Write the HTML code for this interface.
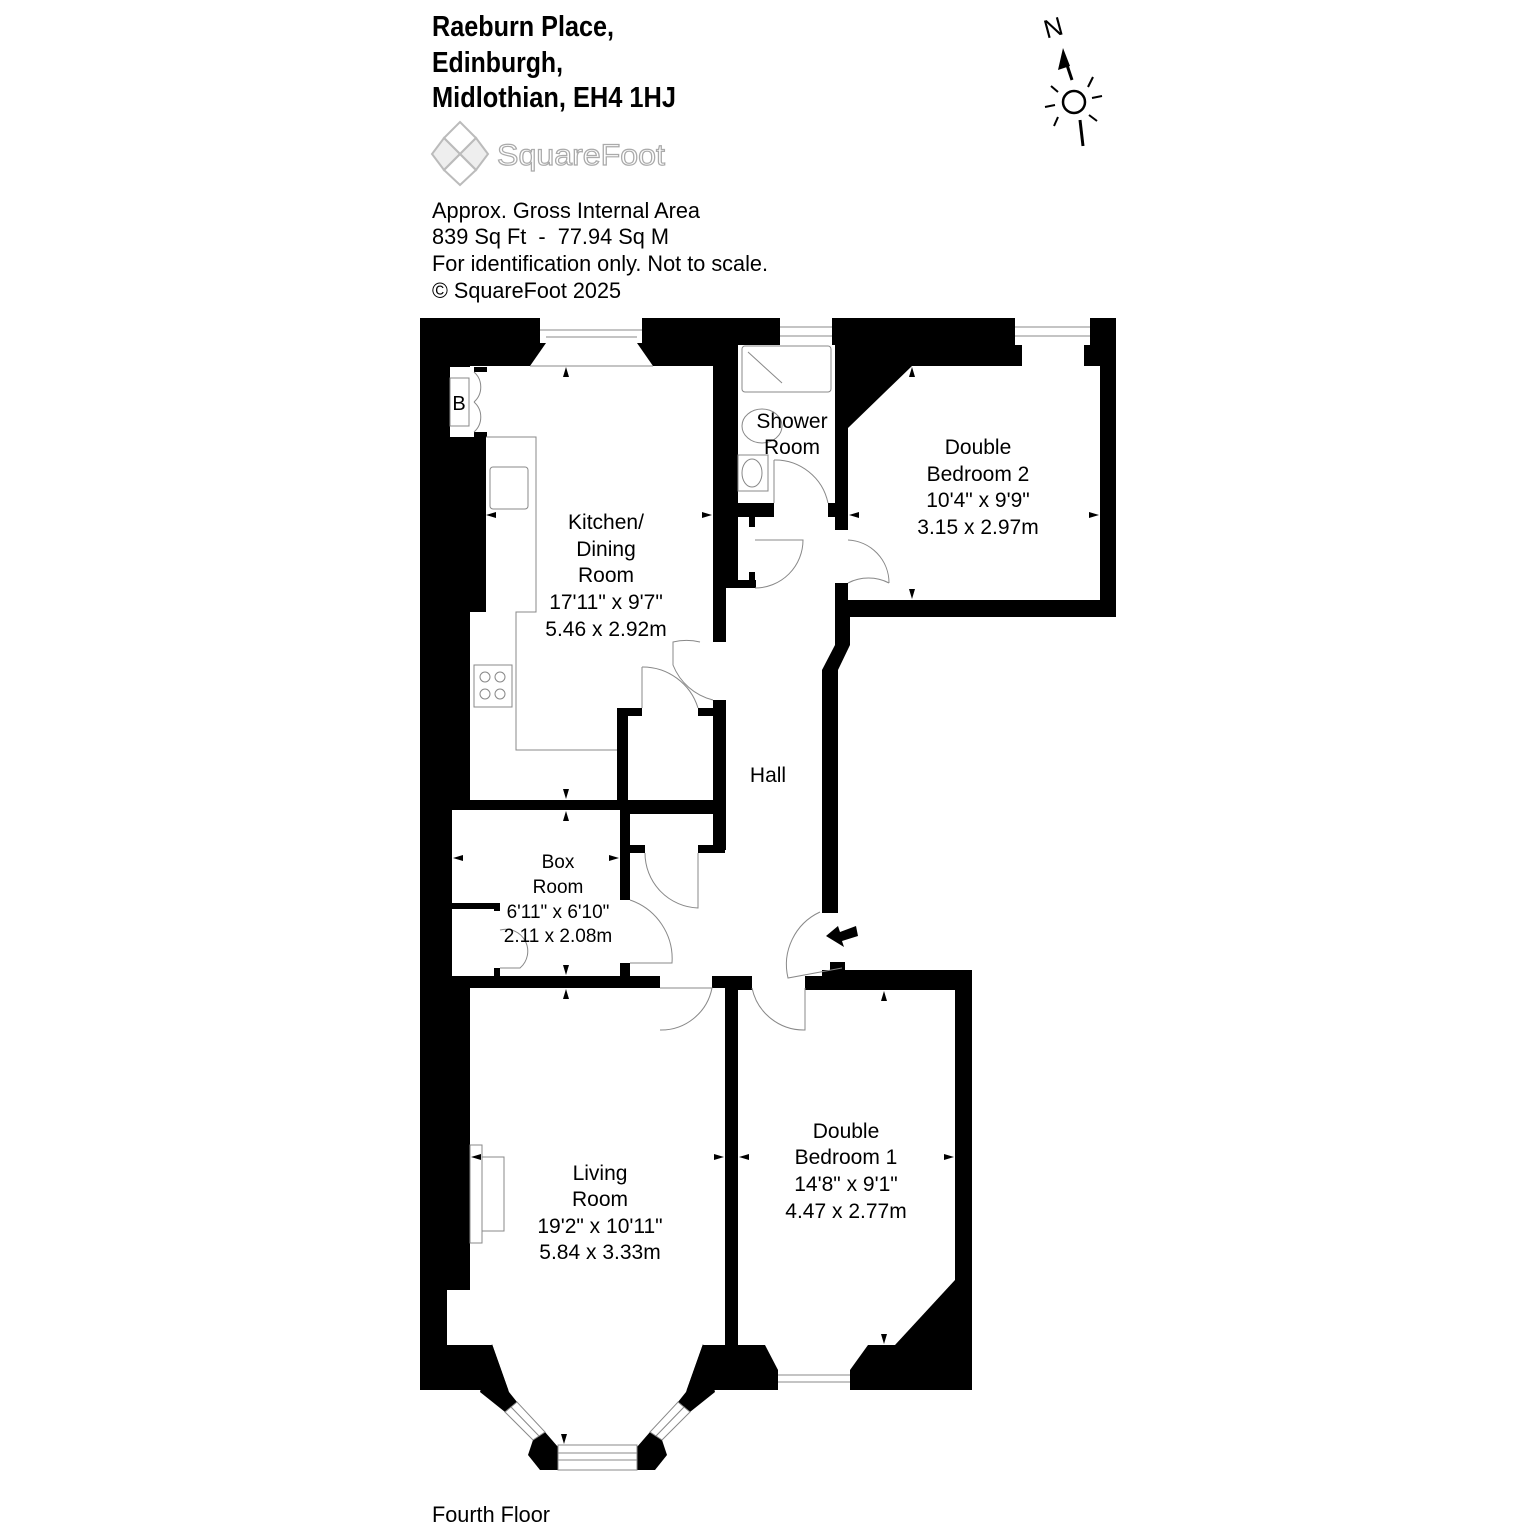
<!DOCTYPE html>
<html><head><meta charset="utf-8"><style>
body{margin:0;background:#fff}
svg{display:block}
.t{font-family:"Liberation Sans Narrow","Liberation Sans",sans-serif}
</style></head><body>
<svg width="1536" height="1536" viewBox="0 0 1536 1536" xmlns="http://www.w3.org/2000/svg">
<rect width="1536" height="1536" fill="#fff"/>
<!-- header -->
<g class="t" fill="#000">
<text x="432" y="36" font-size="29" font-weight="bold" textLength="182" lengthAdjust="spacingAndGlyphs">Raeburn Place,</text>
<text x="432" y="72" font-size="29" font-weight="bold" textLength="131" lengthAdjust="spacingAndGlyphs">Edinburgh,</text>
<text x="432" y="107" font-size="29" font-weight="bold" textLength="244" lengthAdjust="spacingAndGlyphs">Midlothian, EH4 1HJ</text>
<text x="432" y="218" font-size="22" textLength="268" lengthAdjust="spacingAndGlyphs">Approx. Gross Internal Area</text>
<text x="432" y="244" font-size="22" textLength="237" lengthAdjust="spacingAndGlyphs" xml:space="preserve">839 Sq Ft  -  77.94 Sq M</text>
<text x="432" y="271" font-size="22" textLength="336" lengthAdjust="spacingAndGlyphs">For identification only. Not to scale.</text>
<text x="432" y="298" font-size="22" textLength="189" lengthAdjust="spacingAndGlyphs">© SquareFoot 2025</text>
<text x="432" y="1522" font-size="22" textLength="118" lengthAdjust="spacingAndGlyphs">Fourth Floor</text>
</g>
<!-- logo -->
<g fill="none" stroke="#bbb" stroke-width="2">
<path d="M460 122 L476 138 L460 154 L444 138 Z"/>
<path d="M444 138 L460 154 L444 170 L432 154 Z" fill="#eee"/>
<path d="M476 138 L488 154 L476 170 L460 154 Z" fill="#eee"/>
<path d="M460 154 L476 170 L460 185 L444 170 Z"/>
</g>
<text x="497" y="165" class="t" font-size="30" fill="#fff" stroke="#aaa" stroke-width="1.2" textLength="168" lengthAdjust="spacingAndGlyphs">SquareFoot</text>
<!-- compass -->
<g stroke="#000" fill="none" stroke-width="3">
<text x="1044" y="36" class="t" font-size="26" fill="#000" stroke="none" transform="rotate(-15 1055 28)">N</text>
<line x1="1072" y1="80" x2="1066" y2="62"/>
<polygon points="1058,70 1070,66 1063,48" fill="#000" stroke="none"/>
<circle cx="1074" cy="102" r="11" stroke-width="2.5"/>
<line x1="1080" y1="120" x2="1083" y2="146"/>
<line x1="1045" y1="107" x2="1055" y2="105" stroke-width="2"/>
<line x1="1092" y1="98" x2="1102" y2="96" stroke-width="2"/>
<line x1="1051" y1="86" x2="1058" y2="92" stroke-width="2"/>
<line x1="1089" y1="115" x2="1097" y2="121" stroke-width="2"/>
<line x1="1088" y1="87" x2="1093" y2="77" stroke-width="2"/>
<line x1="1058" y1="117" x2="1054" y2="126" stroke-width="2"/>
</g>
<!-- black footprint -->
<polygon fill="#000" points="420,318 1116,318 1116,617 850,617 850,645 838,670 838,905 840,970 972,970 972,1390 420,1390"/>
<g fill="#fff">
<!-- kitchen -->
<rect x="470" y="366" width="243" height="434"/>
<polygon points="530,366 546,343 637,343 653,366"/>
<rect x="540" y="318" width="102" height="25"/>
<rect x="450" y="367" width="37" height="70"/>
<rect x="713" y="642" width="13" height="58"/>
<!-- shower -->
<rect x="738" y="345" width="97" height="158"/>
<rect x="780" y="318" width="52" height="27"/>
<!-- hall -->
<rect x="726" y="503" width="109" height="114"/>
<rect x="726" y="617" width="96" height="359"/>
<polygon points="822,617 835,617 835,645 822,670"/>
<rect x="630" y="850" width="192" height="126"/>
<rect x="818" y="905" width="30" height="65"/>
<!-- bedroom 2 -->
<polygon points="848,428 912,366 1100,366 1100,600 848,600"/>
<rect x="1015" y="318" width="75" height="27"/>
<rect x="1022" y="345" width="62" height="21"/>
<rect x="835" y="530" width="13" height="53"/>
<!-- box room -->
<rect x="452" y="810" width="168" height="166"/>
<rect x="620" y="900" width="10" height="63"/>
<rect x="630" y="810" width="83" height="40"/>
<!-- living -->
<rect x="470" y="988" width="255" height="357"/>
<rect x="447" y="1290" width="23" height="55"/>
<polygon points="492,1344 703,1344 686,1392 650,1445 545,1445 509,1392"/>
<!-- bedroom 1 -->
<polygon points="738,990 955,990 955,1280 895,1345 738,1345"/>
<polygon points="765,1345 868,1345 850,1370 778,1370"/>
<rect x="778" y="1370" width="72" height="20"/>
<!-- door gaps bottom -->
<rect x="660" y="976" width="52" height="12"/>
<rect x="752" y="976" width="53" height="16"/>
</g>
<!-- bay window walls -->
<g fill="#000">
<polygon points="492,1344 509,1392 517,1402 505,1412 480,1392"/>
<polygon points="703,1344 686,1392 678,1402 690,1412 715,1392"/>
<polygon points="533,1440 545,1432 558,1447 558,1470 540,1470 528,1455"/>
<polygon points="662,1440 650,1432 637,1447 637,1470 655,1470 667,1455"/>
</g>
<g fill="#fff" stroke="#888" stroke-width="1">
<polygon points="505,1412 517,1402 545,1432 533,1440"/>
<polygon points="690,1412 678,1402 650,1432 662,1440"/>
<rect x="558" y="1445" width="79" height="25"/>
</g>
<g stroke="#888" stroke-width="1" fill="none">
<line x1="511" y1="1407" x2="539" y2="1436"/>
<line x1="684" y1="1407" x2="656" y2="1436"/>
<line x1="558" y1="1453" x2="637" y2="1453"/><line x1="558" y1="1460" x2="637" y2="1460"/>
</g>
<!-- re-add black bits -->
<g fill="#000">
<rect x="470" y="437" width="16" height="175"/>
<rect x="474" y="367" width="13" height="5"/>
<rect x="474" y="432" width="13" height="5"/>
<rect x="617" y="710" width="11" height="90"/>
<rect x="617" y="708" width="25" height="8"/>
<rect x="698" y="708" width="27" height="8"/>
<rect x="713" y="700" width="13" height="100"/>
<rect x="726" y="503" width="48" height="14"/>
<rect x="828" y="503" width="20" height="14"/>
<rect x="726" y="517" width="12" height="70"/>
<rect x="726" y="580" width="30" height="8"/>
<rect x="749" y="517" width="6" height="10"/>
<rect x="749" y="572" width="6" height="10"/>
<rect x="835" y="583" width="13" height="34"/>
<rect x="620" y="810" width="10" height="90"/>
<rect x="620" y="963" width="10" height="13"/>
<rect x="630" y="808" width="95" height="6"/>
<rect x="713" y="808" width="12" height="45"/>
<rect x="630" y="845" width="15" height="8"/>
<rect x="698" y="845" width="27" height="8"/>
<rect x="452" y="903" width="48" height="6"/>
<rect x="494" y="903" width="6" height="8"/>
<rect x="494" y="968" width="6" height="8"/>
<rect x="822" y="905" width="16" height="8"/>
<rect x="830" y="962" width="15" height="10"/>
<rect x="725" y="988" width="13" height="357"/>
</g>
<!-- windows lines -->
<g stroke="#888" stroke-width="1" fill="none">
<line x1="540" y1="330" x2="642" y2="330"/><line x1="546" y1="337" x2="637" y2="337"/><line x1="530" y1="366" x2="653" y2="366"/>
<line x1="780" y1="327" x2="832" y2="327"/><line x1="780" y1="336" x2="832" y2="336"/>
<line x1="1015" y1="327" x2="1090" y2="327"/><line x1="1015" y1="336" x2="1090" y2="336"/>
<line x1="778" y1="1375" x2="850" y2="1375"/><line x1="778" y1="1382" x2="850" y2="1382"/>
<!-- kitchen fittings -->
<polyline points="486,437 536,437 536,612 516,612 516,750 617,750"/>
<rect x="490" y="467" width="38" height="42" rx="3"/>
<rect x="474" y="665" width="38" height="42"/>
<circle cx="485" cy="677" r="5"/><circle cx="500" cy="677" r="5"/>
<circle cx="485" cy="694" r="5"/><circle cx="500" cy="694" r="5"/>
<rect x="450" y="378" width="19" height="48"/>
<path d="M474 372 A 20 20 0 0 1 474 402"/>
<path d="M474 432 A 20 20 0 0 0 474 402"/>
<!-- shower room fittings -->
<rect x="742" y="346" width="89" height="46" rx="3"/>
<line x1="748" y1="352" x2="782" y2="383"/>
<ellipse cx="762" cy="426" rx="20" ry="17"/>
<rect x="738" y="455" width="30" height="36"/>
<ellipse cx="752" cy="473" rx="10" ry="14"/>
<!-- doors -->
<path d="M774 460 A 54 54 0 0 1 828 503 M774 460 L774 503"/>
<path d="M755 588 A 48 48 0 0 0 803 540 L755 540"/>
<path d="M848 583 A 45 45 0 0 1 889 583"/>
<path d="M848 540 A 43 43 0 0 1 889 583"/>
<path d="M700 642 A 58 58 0 0 0 673 642 L673 665 A 58 58 0 0 0 713 700"/>
<path d="M642 667 A 58 58 0 0 1 698 708 M642 667 L642 708"/>
<path d="M645 853 A 55 55 0 0 0 698 908 L698 853"/>
<path d="M630 900 A 62 62 0 0 1 672 963 L630 963"/>
<path d="M500 930 A 22 22 0 0 1 520 968 L500 968"/>
<path d="M660 1030 A 52 52 0 0 0 712 988 L660 988"/>
<path d="M752 988 A 53 53 0 0 0 805 1030 L805 988"/>
<path d="M820 912 A 58 58 0 0 0 788 978 L842 968"/>
<!-- living fireplace -->
<rect x="470" y="1145" width="12" height="98"/>
<rect x="482" y="1157" width="22" height="74"/>
</g>
<!-- entry arrow -->
<polygon fill="#000" points="826,936 838,926 840,932 856,926 858,936 842,941 844,947"/>
<!-- dimension ticks -->
<g fill="#000">
<polygon points="566,367 563,377 569,377"/><polygon points="566,799 563,789 569,789"/>
<polygon points="486,515 496,512 496,518"/><polygon points="712,515 702,512 702,518"/>
<polygon points="912,367 909,377 915,377"/><polygon points="912,599 909,589 915,589"/>
<polygon points="849,515 859,512 859,518"/><polygon points="1099,515 1089,512 1089,518"/>
<polygon points="566,811 563,821 569,821"/><polygon points="566,975 563,965 569,965"/>
<polygon points="453,858 463,855 463,861"/><polygon points="619,858 609,855 609,861"/>
<polygon points="566,989 563,999 569,999"/><polygon points="564,1444 561,1434 567,1434"/>
<polygon points="471,1157 481,1154 481,1160"/><polygon points="724,1157 714,1154 714,1160"/>
<polygon points="739,1157 749,1154 749,1160"/><polygon points="954,1157 944,1154 944,1160"/>
<polygon points="884,991 881,1001 887,1001"/><polygon points="884,1344 881,1334 887,1334"/>
</g>
<!-- room labels -->
<g class="t" font-size="21" fill="#000" text-anchor="middle">
<text x="792" y="428">Shower</text><text x="792" y="454">Room</text>
<text x="978" y="454">Double</text><text x="978" y="481">Bedroom 2</text>
<text x="978" y="507">10'4" x 9'9"</text><text x="978" y="534">3.15 x 2.97m</text>
<text x="606" y="529">Kitchen/</text><text x="606" y="556">Dining</text><text x="606" y="582">Room</text>
<text x="606" y="609">17'11" x 9'7"</text><text x="606" y="636">5.46 x 2.92m</text>
<text x="768" y="782">Hall</text>
<text x="558" y="868" font-size="19">Box</text><text x="558" y="893" font-size="19">Room</text>
<text x="558" y="918" font-size="19">6'11" x 6'10"</text><text x="558" y="942" font-size="19">2.11 x 2.08m</text>
<text x="600" y="1180">Living</text><text x="600" y="1206">Room</text>
<text x="600" y="1233">19'2" x 10'11"</text><text x="600" y="1259">5.84 x 3.33m</text>
<text x="846" y="1138">Double</text><text x="846" y="1164">Bedroom 1</text>
<text x="846" y="1191">14'8" x 9'1"</text><text x="846" y="1218">4.47 x 2.77m</text>
<text x="459" y="410" font-size="20">B</text>
</g>
</svg>
</body></html>
